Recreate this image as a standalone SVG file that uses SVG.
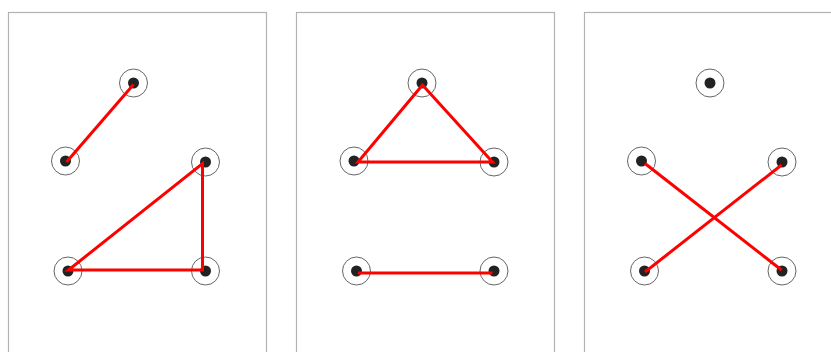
<svg xmlns="http://www.w3.org/2000/svg" width="831" height="352" viewBox="0 0 831 352">
<style>
.frame{fill:#fff;stroke:#b3b3b3;stroke-width:1.2}
.ring{fill:none;stroke:#666;stroke-width:1}
.dot{fill:#222}
.edge{stroke:#f00;stroke-width:3;fill:none;stroke-linecap:butt;stroke-linejoin:miter}
</style>
<rect width="831" height="352" fill="#fff"/>
<g id="panels">
<rect class="frame" x="8.5" y="12.5" width="258" height="360"/>
<rect class="frame" x="296.5" y="12.5" width="258" height="360"/>
<rect class="frame" x="584.5" y="12.5" width="258" height="360"/>
</g>
<defs>
<g id="node"><circle class="ring" r="14"/><circle class="dot" r="5.5"/></g>
</defs>
<g id="p1-n1"><use href="#node" x="133.5" y="83"/></g>
<g id="p1-n2"><use href="#node" x="65.5" y="161"/></g>
<g id="p1-n3"><use href="#node" x="205.5" y="162"/></g>
<g id="p1-n4"><use href="#node" x="68" y="271"/></g>
<g id="p1-n5"><use href="#node" x="205.5" y="271"/></g>
<g id="p2-n1"><use href="#node" x="422" y="83"/></g>
<g id="p2-n2"><use href="#node" x="354" y="161"/></g>
<g id="p2-n3"><use href="#node" x="494" y="162"/></g>
<g id="p2-n4"><use href="#node" x="356.5" y="271"/></g>
<g id="p2-n5"><use href="#node" x="494" y="271"/></g>
<g id="p3-n1"><use href="#node" x="710" y="83"/></g>
<g id="p3-n2"><use href="#node" x="641.5" y="161"/></g>
<g id="p3-n3"><use href="#node" x="782" y="162"/></g>
<g id="p3-n4"><use href="#node" x="644.5" y="271"/></g>
<g id="p3-n5"><use href="#node" x="782" y="271"/></g>
<g id="connectors">
<line class="edge" x1="133.5" y1="84.5" x2="66.5" y2="162"/>
<polygon class="edge" points="202.5,163.5 202.5,270 68.5,270"/>
<polygon class="edge" points="422.5,85 358,162 492.5,162"/>
<line class="edge" x1="358" y1="273" x2="492.5" y2="273"/>
<line class="edge" x1="645" y1="163.5" x2="781.5" y2="270"/>
<line class="edge" x1="781.5" y1="165" x2="645" y2="272"/>
</g>
</svg>
